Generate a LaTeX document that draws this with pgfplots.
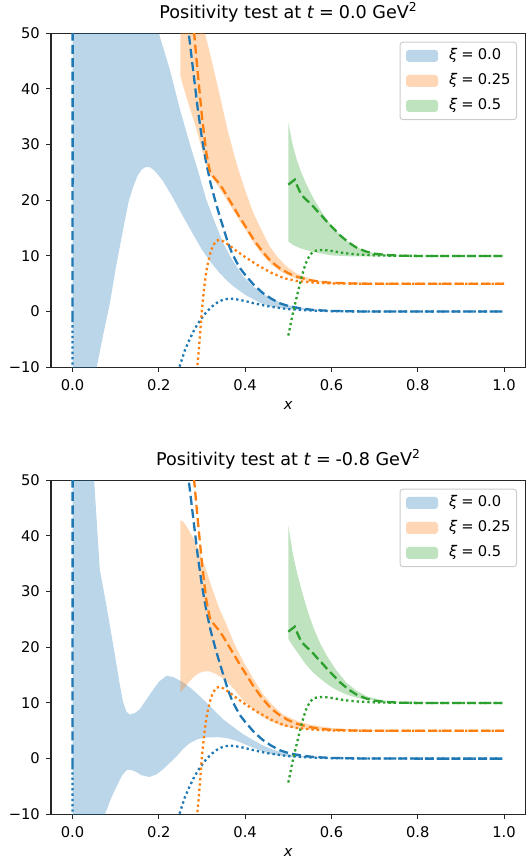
\documentclass[border=0pt]{standalone}
\usepackage{fontspec}
\setmainfont{DejaVu Sans}
\usepackage{pgfplots}
\usepackage{pgfplotstable}
\pgfplotsset{compat=1.18}

\definecolor{C0}{HTML}{1F77B4}
\definecolor{C1}{HTML}{FF7F0E}
\definecolor{C2}{HTML}{2CA02C}

% ---------- bounds shared by both panels ----------
\pgfplotstableread{
x y
0 -1.5
0.001 400
0.1 300
0.2 120
0.24 75
0.25 64
0.262 54
0.27 49.5
0.28 43
0.29 36.5
0.30 31.0
0.31 26.6
0.32 23.0
0.33 20.1
0.34 17.4
0.35 14.9
0.36 12.4
0.37 10.4
0.38 8.9
0.39 7.6
0.40 6.6
0.42 4.8
0.44 3.4
0.46 2.35
0.48 1.5
0.50 1.0
0.53 0.55
0.56 0.28
0.60 0.12
0.65 0.04
0.70 0.01
0.80 0
1.00 0
}\dashB
\pgfplotstableread{
x y
0 -1.5
0.001 -400
0.1 -200
0.2 -30
0.23 -15.5
0.245 -10.6
0.26 -7.0
0.27 -5.2
0.28 -3.6
0.29 -2.2
0.30 -1.1
0.31 -0.1
0.32 0.7
0.33 1.35
0.34 1.85
0.35 2.15
0.36 2.3
0.37 2.3
0.38 2.2
0.40 1.9
0.42 1.5
0.45 1.0
0.48 0.65
0.50 0.45
0.55 0.2
0.60 0.08
0.70 0.01
0.80 0
1.00 0
}\dotB
\pgfplotstableread{
x y
0.25 110
0.26 78
0.27 61
0.28 51.5
0.29 43
0.30 35
0.31 28.5
0.318 25.3
0.325 24.4
0.33 23.9
0.34 23.0
0.35 21.8
0.36 20.5
0.37 19.2
0.38 17.9
0.39 16.6
0.40 15.4
0.42 12.9
0.44 10.8
0.46 9.0
0.48 7.8
0.50 6.9
0.52 6.25
0.55 5.65
0.58 5.3
0.60 5.18
0.65 5.05
0.70 5.0
1.00 5.0
}\dashO
\pgfplotstableread{
x y
0.25 -200
0.27 -60
0.28 -30
0.285 -17
0.289 -10
0.292 -7.5
0.295 -4.5
0.30 0.5
0.305 4.3
0.31 7.3
0.318 10.2
0.325 11.8
0.333 12.7
0.34 12.9
0.35 12.6
0.365 11.8
0.38 10.9
0.40 9.8
0.43 8.3
0.46 7.0
0.49 6.0
0.52 5.5
0.56 5.2
0.60 5.05
0.70 5.0
1.00 5.0
}\dotO
\pgfplotstableread{
x y
0.50 22.8
0.515 23.7
0.52 22.7
0.53 21.0
0.54 20.2
0.55 19.5
0.56 18.7
0.57 17.8
0.58 17.0
0.59 16.1
0.60 15.3
0.62 13.7
0.64 12.4
0.66 11.4
0.68 10.8
0.70 10.4
0.73 10.15
0.76 10.05
0.80 10.0
1.00 10.0
}\dashG
\pgfplotstableread{
x y
0.50 -4.3
0.51 -0.5
0.52 2.8
0.53 6.0
0.54 8.6
0.55 10.2
0.56 10.9
0.58 11.1
0.60 10.9
0.63 10.5
0.66 10.25
0.70 10.1
0.75 10.03
0.80 10.0
1.00 10.0
}\dotG

% ---------- bands at t = 0.0 (upper edge, then lower edge backwards) ----------
\pgfplotstableread{
x y
0 400
0.1 150
0.15 80
0.18 57
0.20 50
0.2256 43.4
0.25 36
0.276 29
0.29 25.5
0.31 20.1
0.33 16.0
0.349 12.3
0.37 9.3
0.396 6.3
0.42 4.4
0.45 2.8
0.48 1.7
0.50 1.15
0.55 0.4
0.60 0.14
0.70 0.02
1.00 0
1.00 0
0.70 0.01
0.60 0.08
0.55 0.2
0.50 0.45
0.46 0.9
0.434 1.6
0.40 3.0
0.372 4.6
0.36 5.4
0.34 7.0
0.318 9.1
0.30 11.1
0.28 13.8
0.256 17.1
0.23 20.8
0.21 23.4
0.20 24.4
0.19 25.3
0.18 25.9
0.17 26.0
0.16 25.5
0.15 24.3
0.14 22.3
0.13 19.8
0.117 14.7
0.10 7.8
0.0865 1.5
0.07 -4.5
0.056 -10
0.04 -22
0.02 -60
0 -400
}\bandBa
\pgfplotstableread{
x y
0.25 80
0.28 62
0.30 53
0.307 50
0.32 45.9
0.342 38.6
0.36 32.4
0.38 26.6
0.40 21.8
0.419 17.7
0.44 14.3
0.457 11.7
0.475 9.8
0.496 8.1
0.52 6.8
0.558 5.7
0.60 5.25
0.65 5.08
0.70 5.02
1.00 5.0
1.00 4.95
0.70 4.95
0.60 5.05
0.55 5.4
0.52 5.9
0.50 6.5
0.48 7.3
0.46 8.5
0.44 10.2
0.42 12.3
0.40 14.8
0.39 16.0
0.38 17.2
0.37 18.5
0.36 19.7
0.35 21.0
0.34 22.2
0.33 23.3
0.32 24.3
0.31 26.2
0.30 29
0.29 32
0.28 34.5
0.27 37
0.26 39.5
0.25 42.3
}\bandOa
\pgfplotstableread{
x y
0.50 34
0.51 30
0.52 27.2
0.53 25
0.54 23.2
0.55 21.6
0.56 20.1
0.57 18.8
0.58 17.6
0.59 16.5
0.60 15.5
0.62 13.8
0.64 12.5
0.66 11.5
0.68 10.9
0.70 10.5
0.73 10.2
0.76 10.05
0.80 10.0
1.00 10.0
1.00 10.0
0.80 9.95
0.70 9.9
0.65 9.9
0.60 10.1
0.558 10.7
0.527 11.4
0.51 12.0
0.50 12.6
}\bandGa

% ---------- bands at t = -0.8 ----------
\pgfplotstableread{
x y
0 400
0.03 120
0.05 50
0.063 34
0.079 27.3
0.09 22.3
0.102 16.8
0.11 13.0
0.117 10.2
0.125 8.4
0.133 7.9
0.145 8.2
0.156 8.9
0.17 10.5
0.187 12.4
0.20 13.8
0.218 14.9
0.235 14.6
0.256 13.7
0.275 12.6
0.295 11.2
0.315 9.7
0.334 8.2
0.35 7.0
0.372 5.7
0.395 4.4
0.419 3.3
0.44 2.4
0.465 1.6
0.49 1.0
0.51 0.65
0.55 0.3
0.60 0.1
0.70 0.02
1.00 0
1.00 0
0.70 0
0.60 0.04
0.55 0.12
0.50 0.35
0.465 0.7
0.44 1.3
0.411 2.2
0.38 3.2
0.357 3.7
0.335 3.85
0.311 3.8
0.29 3.5
0.27 2.7
0.256 1.7
0.241 0.4
0.225 -0.8
0.21 -1.9
0.195 -2.8
0.179 -3.3
0.16 -3.0
0.145 -2.3
0.133 -2.0
0.125 -2.1
0.115 -3.0
0.102 -5.0
0.09 -7.0
0.075 -10
0.05 -25
0.02 -80
0 -400
}\bandBb
\pgfplotstableread{
x y
0.25 42.8
0.2565 42.6
0.265 41.6
0.28 39.6
0.29 37.9
0.303 35.4
0.315 32.6
0.326 30.0
0.34 27.0
0.357 24.0
0.375 20.6
0.396 17.4
0.42 14.2
0.442 11.5
0.465 9.5
0.488 7.9
0.52 6.8
0.55 6.1
0.60 5.5
0.635 5.3
0.70 5.1
0.80 5.0
1.00 5.0
1.00 4.97
0.70 4.97
0.60 5.05
0.55 5.2
0.52 5.4
0.488 5.8
0.465 6.5
0.442 7.4
0.42 8.7
0.396 10.4
0.375 12.4
0.357 13.9
0.345 14.6
0.33 15.3
0.315 15.7
0.30 15.6
0.29 15.2
0.28 14.6
0.27 13.8
0.26 12.8
0.25 11.9
}\bandOb
\pgfplotstableread{
x y
0.50 42
0.505 39.5
0.51 37
0.52 33.5
0.53 30.5
0.54 27.8
0.55 25.3
0.56 23.2
0.575 20.5
0.59 18.4
0.61 16.0
0.635 13.6
0.66 12.1
0.682 11.2
0.71 10.6
0.736 10.3
0.78 10.05
1.00 10.0
1.00 10.0
0.80 10.0
0.76 10.1
0.72 10.25
0.70 10.4
0.674 10.7
0.655 11.0
0.635 11.5
0.615 12.2
0.597 13.0
0.58 14.0
0.558 15.4
0.54 17.0
0.527 18.4
0.52 19.2
0.51 20.3
0.50 21.5
}\bandGb

\pgfplotsset{
  panel/.style={
    scale only axis, width=474.6pt, height=334pt,
    xmin=-0.05, xmax=1.05, ymin=-10, ymax=50,
    xtick={0,0.2,0.4,0.6,0.8,1.0},
    xticklabels={0.0,0.2,0.4,0.6,0.8,1.0},
    ytick={-10,0,10,20,30,40,50},
    yticklabels={−10,0,10,20,30,40,50},
    xtick pos=lower, ytick pos=left,
    tick align=outside, major tick length=4.6pt,
    every tick/.style={line width=1.06pt, black!85},
    axis line style={line width=1.06pt, black!85},
    ticklabel style={font=\fontsize{14.7}{17}\selectfont, black, inner sep=0pt},
    xticklabel style={anchor=north, yshift=-8pt},
    yticklabel style={anchor=east, xshift=-6.4pt},
    xlabel={\textit{x}},
    xlabel style={font=\fontsize{14.7}{17}\selectfont, at={(axis description cs:0.5,0)}, anchor=base, yshift=-42pt},
    title style={font=\fontsize{17.6}{20}\selectfont, at={(axis description cs:0.5,1)}, anchor=base, yshift=9pt},
    legend cell align=left,
    legend style={at={(axis description cs:1,1)}, anchor=north east,
      xshift=-8.6pt, yshift=-8.4pt,
      draw=black!20, line width=1pt, rounded corners=3pt,
      fill=white, fill opacity=0.8, text opacity=1,
      font=\fontsize{14.7}{17}\selectfont,
      inner xsep=6pt, inner ysep=6.5pt, row sep=10.5pt,
      nodes={inner sep=0pt, text height=11pt, text depth=3.5pt},
      /tikz/every odd column/.append style={column sep=11pt}},
    legend image code/.code={\fill[##1] (0pt,-6pt) rectangle (32pt,6pt);},
  },
  band/.style={fill=#1, fill opacity=0.3, draw=none},
  ub/.style={#1, line width=2.3pt, dash pattern=on 9pt off 4.3pt, forget plot},
  lb/.style={#1, line width=2.3pt, dash pattern=on 2.3pt off 3pt, forget plot},
}

\begin{document}
\begin{tikzpicture}
\useasboundingbox (0pt,0pt) rectangle (528pt,856pt);

\begin{axis}[panel, at={(51pt,488.7pt)}, anchor=south west,
  title={Positivity test at \textit{t}\;=\;0.0 GeV\textsuperscript{2}}]
  % shaded bands first, bound curves on top
  \addplot[band=C0] table {\bandBa};
  \addlegendentry{\textit{ξ}\;=\;0.0}
  \addplot[band=C1] table {\bandOa};
  \addlegendentry{\textit{ξ}\;=\;0.25}
  \addplot[band=C2] table {\bandGa};
  \addlegendentry{\textit{ξ}\;=\;0.5}
  \addplot[ub=C0] table {\dashB};
  \addplot[lb=C0] table {\dotB};
  \addplot[ub=C1] table {\dashO};
  \addplot[lb=C1] table {\dotO};
  \addplot[ub=C2] table {\dashG};
  \addplot[lb=C2] table {\dotG};
\end{axis}

\begin{axis}[panel, at={(51pt,41.7pt)}, anchor=south west,
  title={Positivity test at \textit{t}\;=\;-0.8 GeV\textsuperscript{2}}]
  \addplot[band=C0] table {\bandBb};
  \addlegendentry{\textit{ξ}\;=\;0.0}
  \addplot[band=C1] table {\bandOb};
  \addlegendentry{\textit{ξ}\;=\;0.25}
  \addplot[band=C2] table {\bandGb};
  \addlegendentry{\textit{ξ}\;=\;0.5}
  \addplot[ub=C0] table {\dashB};
  \addplot[lb=C0] table {\dotB};
  \addplot[ub=C1] table {\dashO};
  \addplot[lb=C1] table {\dotO};
  \addplot[ub=C2] table {\dashG};
  \addplot[lb=C2] table {\dotG};
\end{axis}
\end{tikzpicture}
\end{document}
